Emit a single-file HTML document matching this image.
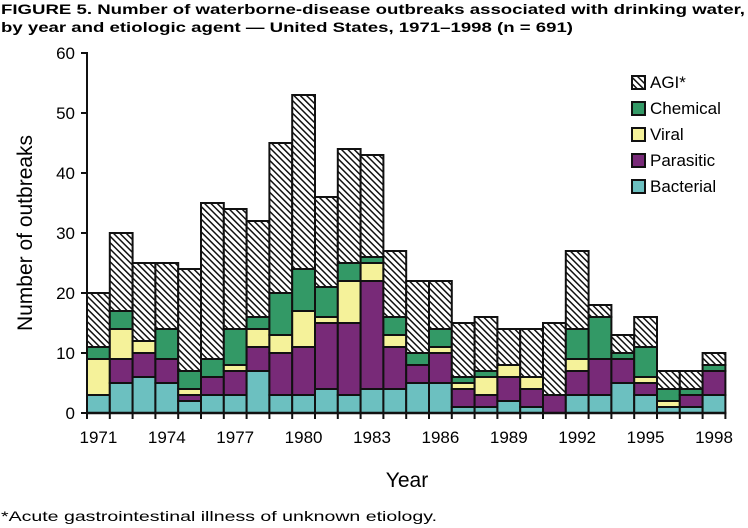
<!DOCTYPE html>
<html><head><meta charset="utf-8"><style>
body{margin:0;background:#fff;}
svg{display:block;font-family:"Liberation Sans",sans-serif;}
</style></head><body>
<svg id="s" width="748" height="528" xmlns="http://www.w3.org/2000/svg">
<defs>
<pattern id="h" width="4.5" height="4.5" patternUnits="userSpaceOnUse" patternTransform="rotate(-45)">
<rect width="4.5" height="4.5" fill="#fff"/><rect width="1.5" height="4.5" fill="#111"/>
</pattern>
</defs>
<text x="1" y="14" font-size="14" font-weight="bold" textLength="744" lengthAdjust="spacingAndGlyphs">FIGURE 5.  Number of waterborne-disease outbreaks associated with drinking water,</text>
<text x="1" y="32" font-size="14" font-weight="bold" textLength="572" lengthAdjust="spacingAndGlyphs">by year and etiologic agent — United States, 1971–1998 (n = 691)</text>
<g id="bars"></g>
<g id="axes"></g>
<text transform="translate(32,233) rotate(-90)" font-size="21" text-anchor="middle">Number of outbreaks</text>
<text x="407" y="487" font-size="21" text-anchor="middle">Year</text>
<text x="1" y="521" font-size="14" textLength="436" lengthAdjust="spacingAndGlyphs">*Acute gastrointestinal illness of unknown etiology.</text>
<g font-size="17">
<rect x="632" y="76" width="13" height="13" fill="url(#h)" stroke="#111" stroke-width="2"/><text x="650" y="88">AGI*</text>
<rect x="632" y="102" width="13" height="13" fill="#339966" stroke="#111" stroke-width="2"/><text x="650" y="114">Chemical</text>
<rect x="632" y="128" width="13" height="13" fill="#f5f29a" stroke="#111" stroke-width="2"/><text x="650" y="140">Viral</text>
<rect x="632" y="154" width="13" height="13" fill="#782a78" stroke="#111" stroke-width="2"/><text x="650" y="166">Parasitic</text>
<rect x="632" y="180" width="13" height="13" fill="#6cc0c0" stroke="#111" stroke-width="2"/><text x="650" y="192">Bacterial</text>
</g>
</svg>
<script>
var d=[[3,3,9,11,20],[5,9,14,17,30],[6,10,12,12,25],[5,9,9,14,25],[2,3,4,7,24],[3,6,6,9,35],[3,7,8,14,34],[7,11,14,16,32],[3,10,13,20,45],[3,11,17,24,53],[4,15,16,21,36],[3,15,22,25,44],[4,22,25,26,43],[4,11,13,16,27],[5,8,8,10,22],[5,10,11,14,22],[1,4,5,6,15],[1,3,6,7,16],[2,6,8,8,14],[1,4,6,6,14],[0,3,3,3,15],[3,7,9,14,27],[3,9,9,16,18],[5,9,9,10,13],[3,5,6,11,16],[1,1,2,4,7],[1,3,3,4,7],[3,7,7,8,10]];
var f=["#6cc0c0","#782a78","#f5f29a","#339966","url(#h)"];
var x0=87,w=22.8,y0=413,k=6,s="";
d.forEach(function(r,i){var x=x0+i*w,p=0;
for(var j=0;j<5;j++){var v=r[j];if(v>p){s+='<rect x="'+x.toFixed(1)+'" y="'+(y0-v*k)+'" width="'+w+'" height="'+((v-p)*k)+'" fill="'+f[j]+'" stroke="#111" stroke-width="2"/>';}p=v;}});
document.getElementById("bars").innerHTML=s;
var a='<line x1="'+x0+'" y1="52" x2="'+x0+'" y2="414" stroke="#111" stroke-width="2"/><line x1="'+(x0-1)+'" y1="413" x2="'+(x0+28*w+1)+'" y2="413" stroke="#111" stroke-width="2.5"/>';
for(var t=0;t<=60;t+=10){var y=y0-t*k;a+='<line x1="'+(x0-6)+'" y1="'+y+'" x2="'+x0+'" y2="'+y+'" stroke="#111" stroke-width="2"/><text x="'+(x0-12)+'" y="'+(y+6)+'" font-size="17" text-anchor="end">'+t+'</text>';}
for(var i=0;i<=28;i++){var x=x0+i*w;a+='<line x1="'+x+'" y1="413" x2="'+x+'" y2="419" stroke="#111" stroke-width="2"/>';}
for(var i=0;i<28;i+=3){a+='<text x="'+(x0+i*w+w/2)+'" y="443" font-size="17" text-anchor="middle">'+(1971+i)+'</text>';}
document.getElementById("axes").innerHTML=a;
</script>
</body></html>
